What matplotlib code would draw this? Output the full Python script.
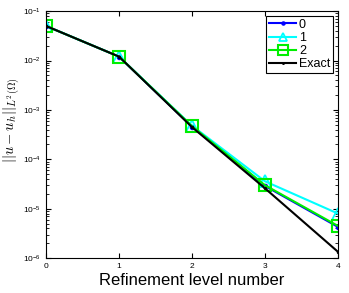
import matplotlib
matplotlib.use("Agg")
import matplotlib.pyplot as plt

# refinement levels and L2 errors
levels = [0, 1, 2, 3, 4]
err0 = [0.05, 0.012, 4.6e-4, 2.9e-5, 4.3e-6]
err1 = [0.05, 0.012, 4.8e-4, 3.6e-5, 8.0e-6]
err2 = [0.05, 0.012, 4.7e-4, 3.0e-5, 4.5e-6]
exact = [0.05, 0.012, 4.5e-4, 2.6e-5, 1.35e-6]

plt.rcParams['font.family'] = ['Liberation Sans', 'DejaVu Sans']
plt.rcParams['mathtext.fontset'] = 'cm'

fig = plt.figure(figsize=(3.49, 2.93), dpi=100)
ax = fig.add_axes([0.132, 0.119, 0.836, 0.843])

ax.semilogy(levels, err0, '-o', color='blue', lw=1.5, ms=3, label='0')
ax.semilogy(levels, err1, '-^', color='cyan', lw=1.5, ms=8, mfc='none', mew=1.3, label='1')
ax.semilogy(levels, err2, '-s', color='#00ee00', lw=1.5, ms=9, mfc='none', mew=1.5, label='2')
ax.semilogy(levels, exact, '-', marker='.', color='black', lw=1.5, ms=3, label='Exact')

ax.set_xlim(0, 4)
ax.set_ylim(1e-6, 1e-1)
ax.set_xticks(levels)
ax.tick_params(which='both', direction='in', top=True, right=True, labelsize=6)
ax.set_xlabel('Refinement level number', fontsize=12, labelpad=2)
ax.set_ylabel(r'$||u-u_h||_{L^2(\Omega)}$', fontsize=10.5)
ax.yaxis.set_label_coords(-0.082, 0.56)

leg = ax.legend(loc='upper right', fontsize=9, fancybox=False, framealpha=1,
                edgecolor='black', borderpad=0.2, labelspacing=0.1,
                handlelength=2.2, handletextpad=0.2, borderaxespad=0.4,
                markerscale=0.75)
leg.get_frame().set_linewidth(0.8)

fig.savefig('out.png', dpi=100)
